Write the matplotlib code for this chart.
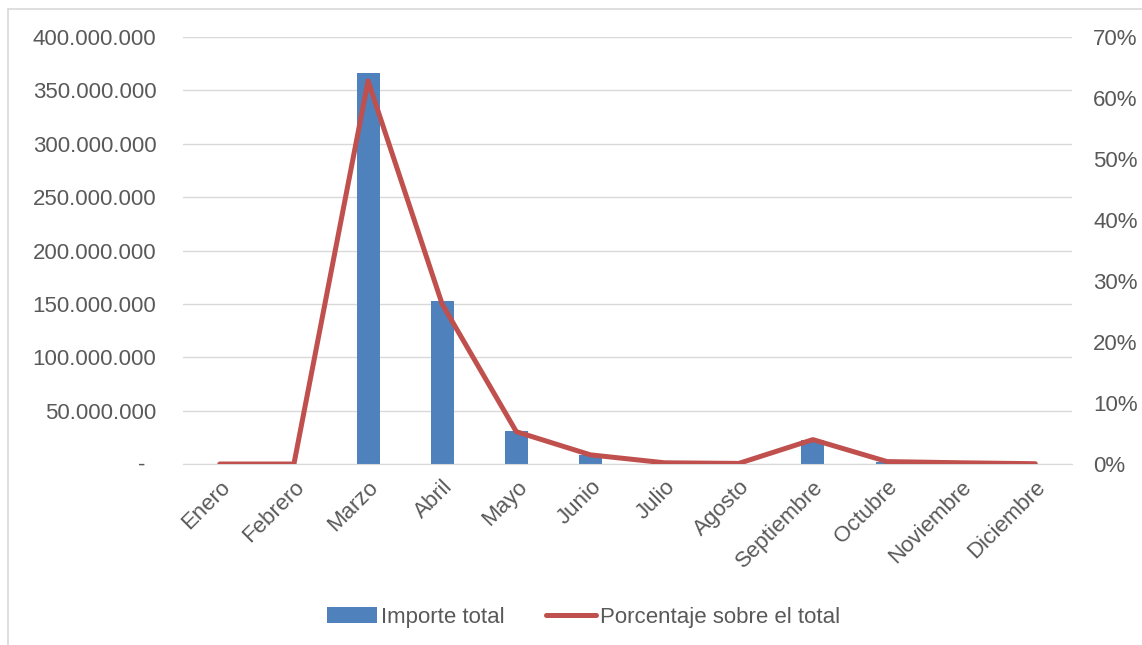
import matplotlib
matplotlib.use("Agg")
import matplotlib.pyplot as plt
from matplotlib.ticker import FuncFormatter
from matplotlib.lines import Line2D

meses = ["Enero", "Febrero", "Marzo", "Abril", "Mayo", "Junio", "Julio",
         "Agosto", "Septiembre", "Octubre", "Noviembre", "Diciembre"]
importe = [0, 0, 366000000, 152700000, 31000000, 8400000, 700000,
           300000, 22500000, 2000000, 1000000, 300000]
porcentaje = [0.0, 0.0, 62.8, 26.2, 5.3, 1.5, 0.2, 0.1, 4.0, 0.4, 0.2, 0.05]

plt.rcParams['font.family'] = ['Liberation Sans', 'DejaVu Sans']
txt = '#595959'

fig = plt.figure(figsize=(11.42, 6.45), dpi=100)
# outer frame: only top and left edges visible
fig.add_artist(Line2D([8/1142, 1.0], [1 - 9/645, 1 - 9/645], transform=fig.transFigure,
                      color='#d9d9d9', linewidth=1.2))
fig.add_artist(Line2D([8/1142, 8/1142], [0.0, 1 - 9/645], transform=fig.transFigure,
                      color='#d9d9d9', linewidth=1.2))

ax = fig.add_axes([0.160, 0.2806, 0.939 - 0.160, 0.9426 - 0.2806])
x = list(range(len(meses)))
b = ax.bar(x, importe, width=0.31, color='#4f81bd', zorder=2, label='Importe total')
ax.set_ylim(0, 400000000)
ax.set_xlim(-0.5, len(meses) - 0.5)
ax.set_yticks(range(0, 400000001, 50000000))

def fmt(v, p):
    if v == 0:
        return ''
    return f"{int(v):,}".replace(',', '.')
ax.yaxis.set_major_formatter(FuncFormatter(fmt))
ax.text(141.5/1142, 1 - 465/645, '-', transform=fig.transFigure, ha='center',
        va='center', fontsize=16, color=txt)
ax.grid(axis='y', color='#d9d9d9', linewidth=1, zorder=0)
ax.set_axisbelow(True)
for s in ax.spines.values():
    s.set_visible(False)
ax.spines['bottom'].set_visible(True)
ax.spines['bottom'].set_color('#d9d9d9')
ax.tick_params(axis='both', length=0, colors=txt, labelsize=16)
ax.tick_params(axis='y', pad=19)
ax.set_xticks(x)
ax.set_xticklabels(meses, rotation=45, ha='right', rotation_mode='anchor')
ax.tick_params(axis='x', pad=9)

ax2 = ax.twinx()
l, = ax2.plot(x, porcentaje, color='#c0504d', linewidth=3.6, solid_capstyle='round',
              solid_joinstyle='round', zorder=3, label='Porcentaje sobre el total')
ax2.set_ylim(0, 70)
ax2.set_yticks(range(0, 71, 10))
ax2.yaxis.set_major_formatter(FuncFormatter(lambda v, p: f"{int(v)}%"))
for s in ax2.spines.values():
    s.set_visible(False)
ax2.tick_params(axis='y', length=0, colors=txt, labelsize=16, pad=15)

leg = fig.legend([b, l], ['Importe total', 'Porcentaje sobre el total'],
                 loc='center', bbox_to_anchor=(0.511, 0.043), ncol=2, frameon=False,
                 fontsize=16, handlelength=2.25, handletextpad=0.15, columnspacing=1.9)
for t in leg.get_texts():
    t.set_color(txt)

fig.savefig('out.png', dpi=100)
